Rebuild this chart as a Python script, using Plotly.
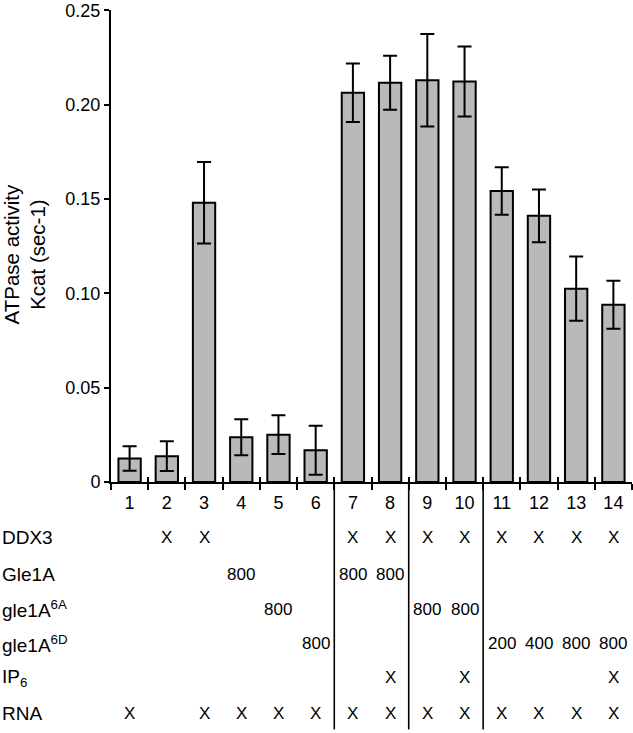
import plotly.graph_objects as go

# ---- data ----
lanes = list(range(1, 15))
lane_labels = [str(i) for i in lanes]
kcat = [0.0125, 0.0137, 0.148, 0.0237, 0.0251, 0.0168, 0.2063, 0.2116,
        0.213, 0.2123, 0.1542, 0.1411, 0.1025, 0.094]
kcat_err = [0.0065, 0.0079, 0.0216, 0.0095, 0.0103, 0.013, 0.0155, 0.0143,
            0.0245, 0.0185, 0.0126, 0.014, 0.017, 0.0127]

y_tickvals = [0, 0.05, 0.10, 0.15, 0.20, 0.25]
y_ticktext = ["0", "0.05", "0.10", "0.15", "0.20", "0.25"]

row_names = ["DDX3", "Gle1A", "gle1A<sup>6A</sup>", "gle1A<sup>6D</sup>",
             "IP<sub>6</sub>", "RNA"]
row_ddx3 = ["", "X", "X", "", "", "", "X", "X", "X", "X", "X", "X", "X", "X"]
row_gle1a = ["", "", "", "800", "", "", "800", "800", "", "", "", "", "", ""]
row_gle1a6a = ["", "", "", "", "800", "", "", "", "800", "800", "", "", "", ""]
row_gle1a6d = ["", "", "", "", "", "800", "", "", "", "", "200", "400", "800", "800"]
row_ip6 = ["", "", "", "", "", "", "", "X", "", "X", "", "", "", "X"]
row_rna = ["X", "", "X", "X", "X", "X", "X", "X", "X", "X", "X", "X", "X", "X"]
rows = [row_ddx3, row_gle1a, row_gle1a6a, row_gle1a6d, row_ip6, row_rna]
group_breaks = [6, 8, 10]  # separators after these lanes

# ---- layout geometry ----
W, H = 633, 733
ML, MR, MT, MB = 111, 1, 7, 251
plot_w = W - ML - MR
plot_h = H - MT - MB
row_px = [538, 575, 610, 645, 679, 715]  # row centres in pixels
FONT = "Liberation Sans, Arial, sans-serif"

def paper_y(px):
    return (H - MB - px) / plot_h

def paper_x(px):
    return (px - ML) / plot_w

boundaries = [i + 0.5 for i in range(0, 15)]

fig = go.Figure()
fig.add_trace(go.Bar(
    x=lanes, y=kcat,
    marker=dict(color="#b9b9b9", line=dict(color="black", width=2)),
    error_y=dict(type="data", array=kcat_err, color="black", thickness=2, width=7),
    width=0.6, xaxis="x", yaxis="y", showlegend=False,
))
# invisible helper trace for the overlay axis that draws the inner tick halves
fig.add_trace(go.Scatter(x=[0.5, 14.5], y=[0, 0], mode="markers",
                         marker=dict(opacity=0), xaxis="x2", yaxis="y",
                         showlegend=False, hoverinfo="skip"))

annotations = []
# y-axis title
annotations.append(dict(text="ATPase activity<br>Kcat (sec-1)", textangle=-90,
                        xref="paper", yref="paper", x=paper_x(25), y=paper_y(253),
                        showarrow=False, font=dict(size=20.5, family=FONT, color="black"),
                        xanchor="center", yanchor="middle"))
# row labels and cells
for name, row, py in zip(row_names, rows, row_px):
    annotations.append(dict(text=name, xref="paper", yref="paper",
                            x=paper_x(0), y=paper_y(py), xanchor="left", yanchor="middle",
                            showarrow=False, font=dict(size=19, family=FONT, color="black")))
    for lane, val in zip(lanes, row):
        if val:
            annotations.append(dict(text=val, xref="x", yref="paper",
                                    x=lane, y=paper_y(py), xanchor="center", yanchor="middle",
                                    showarrow=False, font=dict(size=17, family=FONT, color="black")))

shapes = []
for b in group_breaks:
    xp = b / len(lanes)
    shapes.append(dict(type="line", xref="paper", yref="paper",
                       x0=xp, x1=xp, y0=0, y1=paper_y(731),
                       line=dict(color="black", width=1.6)))

fig.update_layout(
    width=W, height=H,
    margin=dict(l=ML, r=MR, t=MT, b=MB),
    paper_bgcolor="white", plot_bgcolor="white",
    font=dict(family=FONT, color="black"),
    xaxis=dict(range=[0.5, 14.5], tickmode="array", tickvals=lanes, ticktext=lane_labels,
               ticks="outside", ticklen=3, tickcolor="rgba(0,0,0,0)",
               tickfont=dict(size=18, family=FONT, color="black"),
               showline=True, linecolor="black", linewidth=2, showgrid=False, zeroline=False,
               minor=dict(tickmode="array", tickvals=boundaries, ticks="outside",
                          ticklen=6, tickwidth=2, tickcolor="black", showgrid=False),
               fixedrange=True),
    xaxis2=dict(range=[0.5, 14.5], overlaying="x", anchor="y", side="bottom",
                tickmode="array", tickvals=boundaries, ticks="inside", ticklen=5,
                tickwidth=2, tickcolor="black", showticklabels=False,
                showline=False, showgrid=False, zeroline=False),
    yaxis=dict(range=[0, 0.2502], tickmode="array", tickvals=y_tickvals, ticktext=y_ticktext,
               ticks="outside", ticklen=5, tickwidth=2, tickcolor="black",
               ticklabeloverflow="allow",
               tickfont=dict(size=18, family=FONT, color="black"),
               showline=True, linecolor="black", linewidth=2, showgrid=False, zeroline=False),
    annotations=annotations,
    shapes=shapes,
    bargap=0.4,
)

fig.write_html("out.html", config={"displayModeBar": False},
               post_script="document.body.style.margin='0';document.body.style.overflow='hidden';")
